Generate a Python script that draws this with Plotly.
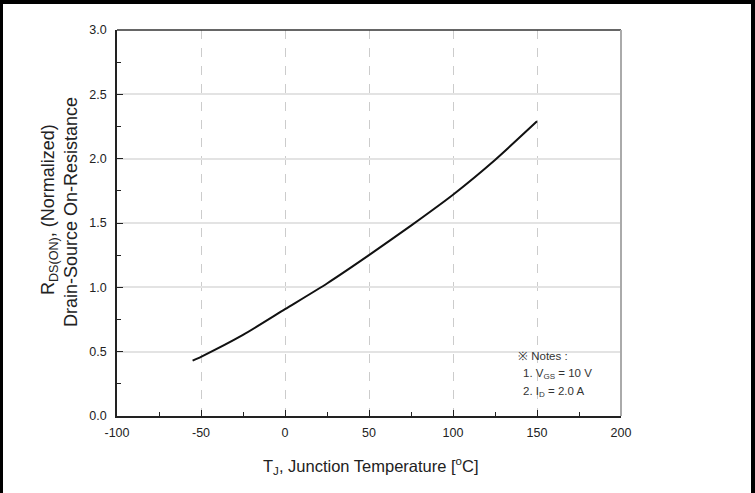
import plotly.graph_objects as go

temps = [-55, -50, -25, 0, 25, 50, 75, 100, 125, 150]
rds_norm = [0.43, 0.46, 0.63, 0.83, 1.03, 1.25, 1.48, 1.72, 1.99, 2.29]

x_ticks = [-100, -50, 0, 50, 100, 150, 200]
y_ticks = [0.0, 0.5, 1.0, 1.5, 2.0, 2.5, 3.0]

L, R, T, B = 117, 621, 30, 416
W, H = 755, 493

def px(x):
    return (x - L) / (R - L)

def py(y):
    return (B - y) / (B - T)

fig = go.Figure()
fig.add_trace(go.Scatter(x=temps, y=rds_norm, mode="lines",
                         line=dict(color="#111111", width=2, shape="spline", smoothing=0.6),
                         hoverinfo="skip", showlegend=False))

font_family = "Liberation Sans, Arial, sans-serif"

fig.update_layout(
    width=W, height=H,
    margin=dict(l=L, r=W - R, t=T, b=H - B),
    paper_bgcolor="white", plot_bgcolor="white",
    font=dict(family=font_family, color="#222222", size=12),
    xaxis=dict(range=[-100, 200], tickvals=x_ticks, ticktext=[str(v) for v in x_ticks],
               showline=True, linecolor="#222222", linewidth=1.5,
               ticks="inside", ticklen=6, tickcolor="#222222", tickwidth=1.2,
               ticklabelstandoff=4,
               showgrid=True, gridcolor="#cccccc", griddash="dash", gridwidth=1,
               minor=dict(dtick=25, ticks="inside", ticklen=4, tickcolor="#222222", showgrid=False),
               zeroline=False, tickfont=dict(size=12.5, color="#222222")),
    yaxis=dict(range=[0, 3], tickvals=y_ticks, ticktext=["%.1f" % v for v in y_ticks],
               showline=True, linecolor="#222222", linewidth=1.5,
               ticks="inside", ticklen=6, tickcolor="#222222", tickwidth=1.2,
               ticklabelstandoff=6,
               showgrid=True, gridcolor="#e3e3e3", gridwidth=1.5,
               minor=dict(dtick=0.25, ticks="inside", ticklen=4, tickcolor="#222222", showgrid=False),
               zeroline=False, tickfont=dict(size=12.5, color="#222222")),
)

shapes = [
    dict(type="line", xref="paper", yref="paper", x0=0, x1=1, y0=1, y1=1,
         line=dict(color="#333333", width=1.5)),
    dict(type="line", xref="paper", yref="paper", x0=1, x1=1, y0=0, y1=1,
         line=dict(color="#aaaaaa", width=2)),
    dict(type="rect", xref="paper", yref="paper", x0=px(0), x1=px(W), y0=py(4), y1=py(0),
         fillcolor="black", line=dict(width=0)),
    dict(type="rect", xref="paper", yref="paper", x0=px(0), x1=px(3), y0=py(H), y1=py(0),
         fillcolor="black", line=dict(width=0)),
    dict(type="rect", xref="paper", yref="paper", x0=px(751), x1=px(W), y0=py(H), y1=py(0),
         fillcolor="black", line=dict(width=0)),
]
fig.update_layout(shapes=shapes)

ann = [
    dict(text="R<sub>DS(ON)</sub>, (Normalized)", x=px(49), y=py(210), textangle=-90,
         xanchor="center", yanchor="middle", font=dict(size=18, color="#222222")),
    dict(text="Drain-Source On-Resistance", x=px(71), y=py(212), textangle=-90,
         xanchor="center", yanchor="middle", font=dict(size=18, color="#222222")),
    dict(text="T<sub>J</sub>, Junction Temperature [<sup>o</sup>C]", x=px(371), y=py(466),
         xanchor="center", yanchor="middle", font=dict(size=16.5, color="#222222")),
    dict(text="※ Notes :", x=px(516), y=py(356), xanchor="left", yanchor="middle",
         font=dict(size=11.5, color="#333333")),
    dict(text="1. V<sub>GS</sub> = 10 V", x=px(521), y=py(374), xanchor="left", yanchor="middle",
         font=dict(size=11.5, color="#333333")),
    dict(text="2. I<sub>D</sub> = 2.0 A", x=px(521), y=py(392), xanchor="left", yanchor="middle",
         font=dict(size=11.5, color="#333333")),
]
for a in ann:
    a.update(xref="paper", yref="paper", showarrow=False)
fig.update_layout(annotations=ann)

fig.write_html("out.html")
